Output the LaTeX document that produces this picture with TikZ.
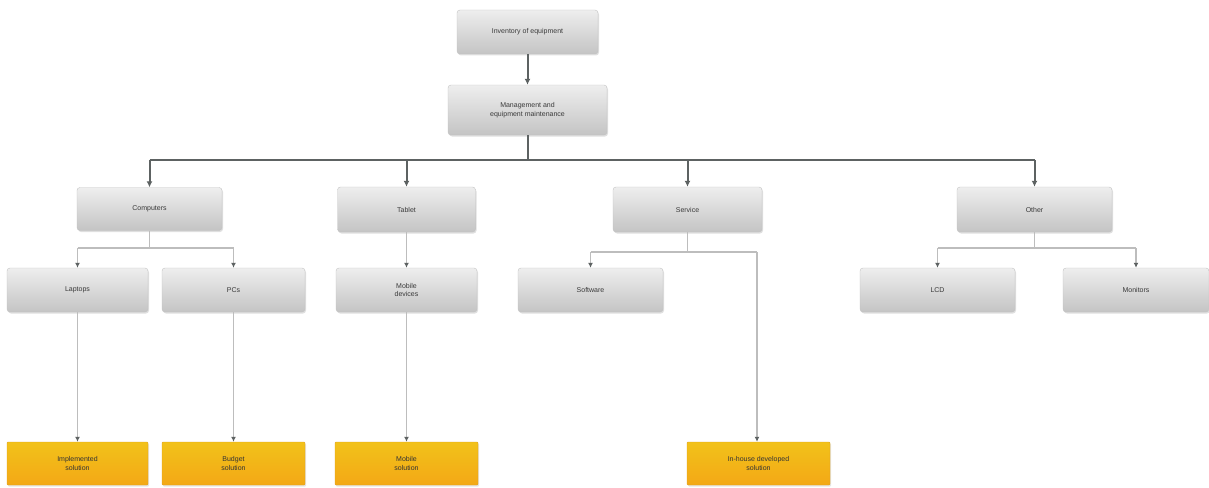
\documentclass[tikz,border=0pt]{standalone}
\usepackage{fontspec}
\setmainfont{Liberation Sans}
\usetikzlibrary{arrows.meta,shadows}
\definecolor{boxtop}{HTML}{EEEEEE}
\definecolor{boxbot}{HTML}{C4C4C4}
\definecolor{boxline}{HTML}{C2C2C2}
\definecolor{yeltop}{HTML}{F2C21A}
\definecolor{yelbot}{HTML}{F3A816}
\definecolor{yelline}{HTML}{E0A020}
\definecolor{mainline}{HTML}{5D6262}
\definecolor{subline}{HTML}{BDBDBD}
\definecolor{txt}{HTML}{3A3A3A}
\tikzset{
  graybox/.style={rectangle, rounded corners=3pt, draw=boxline, top color=boxtop, bottom color=boxbot,
    minimum height=44pt, align=center, font=\fontsize{7}{8.5}\selectfont, text=txt,
    drop shadow={shadow xshift=1pt, shadow yshift=-1.5pt, opacity=0.25}},
  yelbox/.style={rectangle, rounded corners=1pt, draw=yelline, top color=yeltop, bottom color=yelbot,
    minimum width=141pt, minimum height=43pt, align=center, font=\fontsize{7}{8.5}\selectfont, text=black!80,
    drop shadow={shadow xshift=1pt, shadow yshift=-1.5pt, opacity=0.2}},
  mainconn/.style={draw=mainline, line width=2pt},
  mainarrow/.style={draw=mainline, line width=2pt, -{Latex[length=6pt,width=6pt]}},
  subconn/.style={draw=subline, line width=1.6pt},
  subarrow/.style={draw=subline, line width=1.6pt, -{Latex[length=5pt,width=5pt,color=mainline]}},
}
\begin{document}
\begin{tikzpicture}[x=1pt,y=-1pt]
\useasboundingbox (0,0) rectangle (1209,487);
% top
\node[graybox, minimum width=141pt] (root) at (527.5,32) {Inventory of equipment};
\node[graybox, minimum width=159pt, minimum height=50pt] (mgmt) at (527.5,110) {Management and\\equipment maintenance};
% level 1
\node[graybox, minimum width=145pt, minimum height=43pt] (comp) at (149.5,209) {Computers};
\node[graybox, minimum width=138pt, minimum height=45pt] (tab) at (406.5,209.5) {Tablet};
\node[graybox, minimum width=149pt, minimum height=45pt] (serv) at (687.5,209.5) {Service};
\node[graybox, minimum width=155pt, minimum height=45pt] (oth) at (1034.5,209.5) {Other};
% level 2
\node[graybox, minimum width=141pt] (lap) at (77.5,290) {Laptops};
\node[graybox, minimum width=143pt] (pcs) at (233.5,290) {PCs};
\node[graybox, minimum width=141pt] (mob) at (406.5,290) {Mobile\\devices};
\node[graybox, minimum width=145pt] (soft) at (590.5,290) {Software};
\node[graybox, minimum width=155pt] (lcd) at (937.5,290) {LCD};
\node[graybox, minimum width=146pt] (mon) at (1136,290) {Monitors};
% leaves
\node[yelbox] (l1) at (77.5,463.5) {Implemented\\solution};
\node[yelbox, minimum width=143pt] (l2) at (233.5,463.5) {Budget\\solution};
\node[yelbox, minimum width=143pt] (l3) at (406.5,463.5) {Mobile\\solution};
\node[yelbox, minimum width=143pt] (l4) at (758.5,463.5) {In-house developed\\solution};
% coordinates
\coordinate (bus) at (0,160);
\coordinate (cbus) at (0,248);
\coordinate (sbus) at (0,252);
\coordinate (sdrop) at (757,252);
% main connectors
\draw[mainarrow] (root.south) -- (mgmt.north);
\draw[mainconn] (mgmt.south) -- (mgmt.south |- bus);
\draw[mainconn] (comp.north |- bus) -- (oth.north |- bus);
\draw[mainarrow] (comp.north |- bus) -- (comp.north);
\draw[mainarrow] (tab.north |- bus) -- (tab.north);
\draw[mainarrow] (serv.north |- bus) -- (serv.north);
\draw[mainarrow] (oth.north |- bus) -- (oth.north);
% computers
\draw[subconn] (comp.south) -- (comp.south |- cbus);
\draw[subconn] (lap.north |- cbus) -- (pcs.north |- cbus);
\draw[subarrow] (lap.north |- cbus) -- (lap.north);
\draw[subarrow] (pcs.north |- cbus) -- (pcs.north);
% tablet
\draw[subarrow] (tab.south) -- (mob.north);
% service
\draw[subconn] (serv.south) -- (serv.south |- sbus);
\draw[subconn] (soft.north |- sbus) -- (sdrop);
\draw[subarrow] (soft.north |- sbus) -- (soft.north);
\draw[subarrow] (sdrop) -- (sdrop |- l4.north);
% other
\draw[subconn] (oth.south) -- (oth.south |- cbus);
\draw[subconn] (lcd.north |- cbus) -- (mon.north |- cbus);
\draw[subarrow] (lcd.north |- cbus) -- (lcd.north);
\draw[subarrow] (mon.north |- cbus) -- (mon.north);
% leaves
\draw[subarrow] (lap.south) -- (l1.north);
\draw[subarrow] (pcs.south) -- (l2.north);
\draw[subarrow] (mob.south) -- (l3.north);
\end{tikzpicture}
\end{document}
